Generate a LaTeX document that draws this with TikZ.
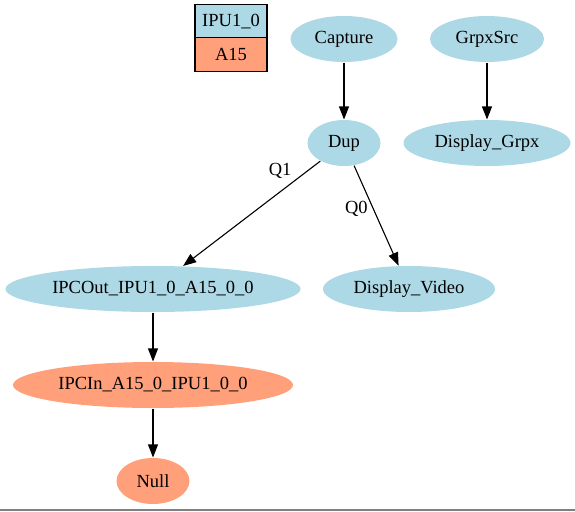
\documentclass[tikz,border=0pt]{standalone}
\usepackage{fontspec}
\setmainfont{Liberation Serif}
\usetikzlibrary{arrows.meta,shapes.geometric}
\definecolor{lblue}{RGB}{173,216,230}
\definecolor{lsalmon}{RGB}{255,160,122}
\tikzset{
  task/.style={ellipse, fill=#1, inner sep=0pt, minimum height=46pt, font=\fontsize{18.5}{20}\selectfont},
  task/.default=lblue,
  cell/.style={draw, fill=#1, minimum width=72pt, minimum height=33.5pt, inner sep=0pt, font=\fontsize{18.5}{20}\selectfont},
  lbl/.style={font=\fontsize{18.5}{20}\selectfont, inner sep=2pt}
}
\begin{document}
\begin{tikzpicture}[x=1pt, y=-1pt, >={Triangle[length=13pt,width=10pt]}, line width=1.1pt]
  \useasboundingbox (0,0) rectangle (575,511);
  \draw [gray, line width=2pt] (0,510) -- (575,510);

  % legend
  \node [cell=lblue]   (ipu)  at (231,21.5) {IPU1\_0};
  \node [cell=lsalmon] (a15)  at (231,54.5) {A15};

  % tasks
  \node [task, minimum width=107pt] (capture) at (344,39)  {Capture};
  \node [task, minimum width=114pt] (grpxsrc) at (487,39)  {GrpxSrc};
  \node [task, minimum width=73pt]  (dup)     at (344,143) {Dup};
  \node [task, minimum width=167pt] (dispgrpx) at (487,143) {Display\_Grpx};
  \node [task, minimum width=295pt] (ipcout)  at (153,289) {IPCOut\_IPU1\_0\_A15\_0\_0};
  \node [task, minimum width=172pt] (dispvid) at (409,289) {Display\_Video};
  \node [task=lsalmon, minimum width=280pt] (ipcin) at (153,385) {IPCIn\_A15\_0\_IPU1\_0\_0};
  \node [task=lsalmon, minimum width=73pt]  (null)  at (153,481) {Null};

  \draw [->] (capture) -- (dup);
  \draw [->] (grpxsrc) -- (dispgrpx);
  \draw [->] (dup) -- (ipcout) node [lbl, pos=0.09, left=14pt] {Q1};
  \draw [->] (dup) -- (dispvid) node [lbl, pos=0.43, left=3pt] {Q0};
  \draw [->] (ipcout) -- (ipcin);
  \draw [->] (ipcin) -- (null);
\end{tikzpicture}
\end{document}
